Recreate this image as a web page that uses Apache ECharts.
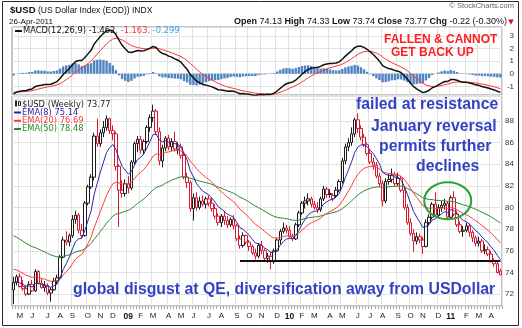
<!DOCTYPE html>
<html>
<head>
<meta charset="utf-8">
<title>$USD weekly</title>
<script src="https://cdn.jsdelivr.net/npm/echarts@6/dist/echarts.min.js"></script>
<style>
html,body{margin:0;padding:0;background:#fff;}
#chart{width:522px;height:328px;}
</style>
</head>
<body>
<div id="chart"></div>
<script>
// Weekly bars, week starting Monday
const weeks = [
'2008-04-21','2008-04-28','2008-05-05','2008-05-12','2008-05-19','2008-05-26',
'2008-06-02','2008-06-09','2008-06-16','2008-06-23','2008-06-30',
'2008-07-07','2008-07-14','2008-07-21','2008-07-28',
'2008-08-04','2008-08-11','2008-08-18','2008-08-25',
'2008-09-01','2008-09-08','2008-09-15','2008-09-22','2008-09-29',
'2008-10-06','2008-10-13','2008-10-20','2008-10-27',
'2008-11-03','2008-11-10','2008-11-17','2008-11-24',
'2008-12-01','2008-12-08','2008-12-15','2008-12-22','2008-12-29',
'2009-01-05','2009-01-12','2009-01-19','2009-01-26',
'2009-02-02','2009-02-09','2009-02-16','2009-02-23',
'2009-03-02','2009-03-09','2009-03-16','2009-03-23','2009-03-30',
'2009-04-06','2009-04-13','2009-04-20','2009-04-27',
'2009-05-04','2009-05-11','2009-05-18','2009-05-25',
'2009-06-01','2009-06-08','2009-06-15','2009-06-22','2009-06-29',
'2009-07-06','2009-07-13','2009-07-20','2009-07-27',
'2009-08-03','2009-08-10','2009-08-17','2009-08-24','2009-08-31',
'2009-09-07','2009-09-14','2009-09-21','2009-09-28',
'2009-10-05','2009-10-12','2009-10-19','2009-10-26',
'2009-11-02','2009-11-09','2009-11-16','2009-11-23','2009-11-30',
'2009-12-07','2009-12-14','2009-12-21','2009-12-28',
'2010-01-04','2010-01-11','2010-01-18','2010-01-25',
'2010-02-01','2010-02-08','2010-02-15','2010-02-22',
'2010-03-01','2010-03-08','2010-03-15','2010-03-22','2010-03-29',
'2010-04-05','2010-04-12','2010-04-19','2010-04-26',
'2010-05-03','2010-05-10','2010-05-17','2010-05-24','2010-05-31',
'2010-06-07','2010-06-14','2010-06-21','2010-06-28',
'2010-07-05','2010-07-12','2010-07-19','2010-07-26',
'2010-08-02','2010-08-09','2010-08-16','2010-08-23','2010-08-30',
'2010-09-06','2010-09-13','2010-09-20','2010-09-27',
'2010-10-04','2010-10-11','2010-10-18','2010-10-25',
'2010-11-01','2010-11-08','2010-11-15','2010-11-22','2010-11-29',
'2010-12-06','2010-12-13','2010-12-20','2010-12-27',
'2011-01-03','2011-01-10','2011-01-17','2011-01-24','2011-01-31',
'2011-02-07','2011-02-14','2011-02-21','2011-02-28',
'2011-03-07','2011-03-14','2011-03-21','2011-03-28',
'2011-04-04','2011-04-11','2011-04-18','2011-04-25'
];

const opens = [
72.4,73.1,73.6,72.7,72.5,72.0,72.9,72.3,74.1,73.0,
72.6,72.8,72.1,72.4,73.2,73.5,75.4,77.0,76.8,77.4,
78.9,79.3,77.9,77.4,80.4,81.9,82.8,86.6,85.9,86.9,
87.4,88.2,87.1,86.8,83.8,81.6,81.3,82.2,81.8,84.2,
85.9,86.3,85.3,86.1,87.4,88.3,88.9,87.0,84.3,85.5,
86.4,85.6,86.1,85.4,85.6,84.8,82.8,82.3,79.9,80.9,
80.0,80.6,80.3,80.8,80.4,79.9,79.2,78.6,79.2,78.8,
78.4,78.9,78.3,77.1,76.5,77.4,76.8,76.4,75.8,75.5,
76.5,76.0,75.3,75.5,75.0,76.0,77.0,77.8,78.1,77.9,
77.3,77.1,78.4,79.5,80.4,80.6,80.8,80.3,80.0,79.8,
80.8,81.7,81.2,80.8,81.1,81.6,82.4,84.3,85.6,86.0,
86.8,88.1,87.3,86.5,85.8,85.0,84.2,83.9,82.9,82.2,
80.6,82.4,82.6,83.0,82.2,82.7,81.6,80.0,78.6,77.6,
76.9,77.3,77.0,76.4,78.6,79.1,80.3,79.3,80.0,80.2,
80.4,79.1,80.9,79.4,78.4,77.8,77.9,78.3,77.7,77.2,
76.7,76.9,76.0,76.1,75.7,75.1,74.8,74.13
];
const highs = [
73.6,73.8,73.9,73.3,72.8,73.2,73.3,74.3,74.2,73.4,
73.2,73.0,72.6,73.5,73.8,75.6,77.3,77.8,77.6,79.3,
79.7,79.5,78.5,80.6,82.1,83.1,86.9,88.2,87.2,88.0,
88.5,88.3,87.6,87.0,84.0,82.5,82.6,82.9,84.4,86.1,
86.6,86.6,86.3,87.6,88.6,89.5,89.1,87.4,85.8,86.6,
86.7,86.4,87.0,86.0,85.9,85.0,83.2,82.5,81.3,81.4,
81.0,81.1,81.0,81.1,80.9,80.3,79.5,79.4,79.6,79.2,
79.1,79.3,78.5,77.4,77.7,77.5,77.0,76.6,76.2,76.7,
76.9,76.2,75.8,75.9,76.2,77.2,78.0,78.6,78.4,78.3,
77.6,78.6,79.7,80.6,81.0,81.3,81.0,80.6,80.5,81.0,
82.0,81.9,81.7,81.3,81.9,82.6,84.6,85.9,86.4,87.4,
88.3,88.7,87.6,86.8,86.0,85.3,84.6,84.2,83.2,82.5,
82.7,83.1,83.6,83.3,83.2,82.9,81.8,80.3,79.0,78.0,
77.7,77.6,77.3,78.9,79.4,80.5,81.4,80.3,80.6,80.8,
80.6,81.1,81.5,79.7,78.7,78.3,78.6,78.5,77.9,77.4,
77.3,77.1,76.6,76.4,76.0,75.3,75.0,74.33
];
const lows = [
71.1,72.8,72.6,72.3,71.8,71.9,72.2,72.2,72.9,72.5,
72.2,71.9,71.3,72.3,72.9,73.4,75.3,76.5,76.4,77.2,
78.5,77.6,77.1,77.3,80.2,81.7,82.5,85.6,85.6,86.5,
87.1,86.8,86.2,83.4,78.2,80.9,81.0,81.3,81.6,84.0,
85.1,85.0,84.9,85.9,87.0,87.9,86.7,83.9,83.7,85.2,
85.3,85.2,85.2,84.9,84.5,82.6,81.8,79.6,78.8,79.7,
79.8,80.1,79.9,80.1,79.6,78.9,78.3,78.2,78.4,78.1,
78.2,78.0,76.9,76.2,76.3,76.6,76.0,75.6,75.2,75.3,
75.7,75.0,74.9,74.3,74.8,75.9,76.6,77.6,77.6,77.2,
76.9,77.0,78.2,79.3,79.9,80.2,80.0,79.8,79.5,79.6,
80.6,80.9,80.9,80.6,80.9,81.4,82.2,84.0,85.2,85.7,
86.5,86.9,86.2,85.6,84.8,84.0,83.5,82.7,81.9,80.1,
80.4,82.1,82.3,82.0,82.0,81.4,79.8,78.4,77.4,75.9,
76.6,76.7,75.7,76.3,78.3,78.9,79.1,79.1,79.6,79.8,
78.9,78.9,79.2,78.2,77.6,77.3,77.7,77.3,76.8,76.4,
76.4,75.8,75.7,75.5,74.9,74.5,73.9,73.74
];
const closes = [
73.1,73.6,72.7,72.5,72.0,72.9,72.3,74.1,73.0,72.6,
72.8,72.1,72.4,73.2,73.5,75.4,77.0,76.8,77.4,78.9,
79.3,77.9,77.4,80.4,81.9,82.8,86.6,85.9,86.9,87.4,
88.2,87.1,86.8,83.8,81.6,81.3,82.2,81.8,84.2,85.9,
86.3,85.3,86.1,87.4,88.3,88.9,87.0,84.3,85.5,86.4,
85.6,86.1,85.4,85.6,84.8,82.8,82.3,79.9,80.9,80.0,
80.6,80.3,80.8,80.4,79.9,79.2,78.6,79.2,78.8,78.4,
78.9,78.3,77.1,76.5,77.4,76.8,76.4,75.8,75.5,76.5,
76.0,75.3,75.5,75.0,76.0,77.0,77.8,78.1,77.9,77.3,
77.1,78.4,79.5,80.4,80.6,80.8,80.3,80.0,79.8,80.8,
81.7,81.2,81.3,81.1,81.6,82.4,84.3,85.6,86.0,86.8,
88.1,87.3,86.5,85.8,85.0,84.2,83.9,82.9,82.2,80.6,
82.4,82.6,83.0,82.2,82.7,81.6,80.0,78.6,77.6,76.9,
77.3,77.0,76.4,78.6,79.1,80.3,79.3,80.0,80.2,80.4,
79.1,80.9,79.4,78.4,77.8,77.9,78.3,77.7,77.2,76.7,
76.9,76.0,76.1,75.7,75.1,74.8,73.99,73.77
];

// Indicator levels carried in from the weeks before the first bar
const emaStart = { e8: 73.0, e20: 74.3, e50: 77.4 };
const macdStart = { fast: 73.3, slow: 74.9, signal: -1.46 };

// Latest readings printed in the panel legends
const legendValues = {
  close: '73.77', ema8: '75.14', ema20: '76.69', ema50: '78.48',
  macd: '-1.462', signal: '-1.163', hist: '-0.299'
};

const supportLevel = 75.05;
const supportFrom = 73;

// Exponential moving average of a weekly series
function ema(src, period, start) {
  const k = 2 / (period + 1);
  const out = [start];
  for (let i = 1; i < src.length; i++) out.push(out[i - 1] + k * (src[i] - out[i - 1]));
  return out;
}
const r3 = v => Math.round(v * 1000) / 1000;

const ema8 = ema(closes, 8, emaStart.e8);
const ema20 = ema(closes, 20, emaStart.e20);
const ema50 = ema(closes, 50, emaStart.e50);
const fast = ema(closes, 12, macdStart.fast);
const slow = ema(closes, 26, macdStart.slow);
const macd = fast.map((v, i) => v - slow[i]);
const signal = ema(macd, 9, macdStart.signal);
const hist = macd.map((v, i) => v - signal[i]);

const RED = '#d81830';
const INK = '#1c1c1c';

// Hollow when the week closes above its open; red when it closes below the prior week
const candles = closes.map((c, i) => {
  const prev = i ? closes[i - 1] : opens[i];
  const ink = c < prev ? RED : INK;
  return {
    value: [opens[i], c, lows[i], highs[i]],
    itemStyle: { color: '#ffffff', color0: ink, borderColor: ink, borderColor0: ink }
  };
});

const monthStart = weeks.map((d, i) => i > 0 && d.slice(5, 7) !== weeks[i - 1].slice(5, 7));
const MONTHS = 'JFMAMJJASOND';
function monthLabel(d) {
  const m = +d.slice(5, 7);
  return m === 1 ? '{y|' + d.slice(2, 4) + '}' : MONTHS[m - 1];
}

const gridLine = { color: '#e2e2e2', width: 1 };
const AX_FONT = 'Liberation Sans';
const LEG_FONT = 'DejaVu Sans';

const intLabel = v => {
  const n = Math.round(v);
  return Math.abs(v - n) < 1e-6 ? String(n) : '';
};

const chart = echarts.init(document.getElementById('chart'), null, { width: 522, height: 328 });

chart.setOption({
  animation: false,
  backgroundColor: '#ffffff',
  grid: [
    { left: 12, right: 20, top: 27, height: 68, show: true, borderColor: '#8c8c8c', borderWidth: 1, outerBoundsMode: 'none' },
    { left: 12, right: 20, top: 96, height: 210, show: true, borderColor: '#8c8c8c', borderWidth: 1, outerBoundsMode: 'none' }
  ],
  xAxis: [
    {
      type: 'category', gridIndex: 0, data: weeks, boundaryGap: true,
      axisLine: { show: false }, axisTick: { show: false }, axisLabel: { show: false },
      splitLine: { show: true, interval: i => monthStart[i], lineStyle: gridLine }
    },
    {
      type: 'category', gridIndex: 1, data: weeks, boundaryGap: true,
      axisLine: { show: false },
      axisTick: { show: true, interval: 0, length: 3, lineStyle: { color: '#a8a8a8' } },
      axisLabel: {
        interval: i => monthStart[i],
        formatter: v => monthLabel(v),
        fontFamily: AX_FONT, fontSize: 8, color: '#1a1a1a', margin: 6, hideOverlap: false,
        rich: { y: { fontFamily: AX_FONT, fontSize: 8.5, fontWeight: 'bold', color: '#111' } }
      },
      splitLine: { show: true, interval: i => monthStart[i], lineStyle: gridLine }
    }
  ],
  yAxis: [
    {
      type: 'value', gridIndex: 0, position: 'right', min: -1.69, max: 3.71, splitNumber: 5,
      axisLine: { show: false }, axisTick: { show: false },
      axisLabel: { fontFamily: AX_FONT, fontSize: 8, color: '#333', margin: 12, align: 'right', formatter: intLabel, showMinLabel: false, showMaxLabel: false },
      splitLine: { show: true, lineStyle: gridLine }
    },
    {
      type: 'value', gridIndex: 1, position: 'right', min: 70.9, max: 90.3, splitNumber: 10,
      axisLine: { show: false }, axisTick: { show: false },
      axisLabel: { fontFamily: AX_FONT, fontSize: 8, color: '#333', margin: 12, align: 'right',
        formatter: v => (v >= 72 && v <= 88 ? intLabel(v) : ''), showMinLabel: false, showMaxLabel: false },
      splitLine: { show: true, lineStyle: gridLine }
    }
  ],
  series: [
    {
      name: 'MACD histogram', type: 'bar', xAxisIndex: 0, yAxisIndex: 0,
      data: hist.map(r3), barWidth: 2.4, z: 1,
      itemStyle: { color: '#4f83c3' }
    },
    {
      name: 'MACD', type: 'line', xAxisIndex: 0, yAxisIndex: 0, data: macd.map(r3),
      symbol: 'none', z: 3, lineStyle: { color: '#111', width: 1.5 }
    },
    {
      name: 'Signal', type: 'line', xAxisIndex: 0, yAxisIndex: 0, data: signal.map(r3),
      symbol: 'none', z: 2, lineStyle: { color: '#ff3333', width: 1 }
    },
    {
      name: '$USD', type: 'candlestick', xAxisIndex: 1, yAxisIndex: 1,
      data: candles, barWidth: 3, z: 2
    },
    {
      name: 'EMA(50)', type: 'line', xAxisIndex: 1, yAxisIndex: 1, data: ema50.map(r3),
      symbol: 'none', z: 3, lineStyle: { color: '#2a8a2a', width: 1 }
    },
    {
      name: 'EMA(20)', type: 'line', xAxisIndex: 1, yAxisIndex: 1, data: ema20.map(r3),
      symbol: 'none', z: 3, lineStyle: { color: '#ff3b3b', width: 1 }
    },
    {
      name: 'EMA(8)', type: 'line', xAxisIndex: 1, yAxisIndex: 1, data: ema8.map(r3),
      symbol: 'none', z: 4, lineStyle: { color: '#2828a8', width: 1 }
    },
    {
      name: 'Support', type: 'line', xAxisIndex: 1, yAxisIndex: 1,
      data: [[weeks[supportFrom], supportLevel], [weeks[weeks.length - 1], supportLevel]],
      symbol: 'none', z: 5, lineStyle: { color: '#111', width: 2 }
    }
  ]
});

// Annotation ring around the Dec 2010 - Jan 2011 stall
const ringCenter = chart.convertToPixel({ xAxisIndex: 1, yAxisIndex: 1 }, [weeks[140], 80.63]);

const txt = (text, x, y, font, fill, extra) => ({
  type: 'text', z: 100,
  style: Object.assign({ text, x, y, font, fill, textVerticalAlign: 'middle' }, extra || {})
});
const seg = (x1, x2, y, stroke) => ({
  type: 'line', z: 100, shape: { x1, y1: y, x2, y2: y }, style: { stroke, lineWidth: 2 }
});

const BLUE_NOTE = '#3342c4';
const noteFont = 'bold 15.8px "Liberation Sans"';
const redFont = 'bold 12px "Liberation Sans"';
const legFont = '8.3px "DejaVu Sans"';
const L = legendValues;

chart.setOption({
  graphic: [
    { type: 'rect', z: 100, shape: { x: 2.5, y: 1.5, width: 516, height: 324 }, style: { fill: 'none', stroke: '#2a2a2a', lineWidth: 1 } },
    txt('$USD', 10, 10.5, 'bold 9.6px "Liberation Sans"', '#111'),
    txt('(US Dollar Index (EOD)) INDX', 38, 11, '8.5px "Liberation Sans"', '#111'),
    txt('26-Apr-2011', 9, 21.5, '8px "Liberation Sans"', '#111'),
    txt('\u00A9 StockCharts.com', 514, 6, '7.5px "Liberation Sans"', '#666', { textAlign: 'right' }),
    {
      type: 'text', z: 100,
      style: {
        text: '{b|Open} 74.13 {b|High} 74.33 {b|Low} 73.74 {b|Close} 73.77 {b|Chg} -0.22 (-0.30%)',
        x: 507, y: 21.5, textAlign: 'right', textVerticalAlign: 'middle',
        font: '9px "Liberation Sans"', fill: '#111',
        rich: { b: { fontFamily: 'Liberation Sans', fontSize: 9, fontWeight: 'bold', fill: '#111' } }
      }
    },
    txt('\u25BC', 511, 22, '7px "DejaVu Sans"', '#cc1122', { textAlign: 'center' }),

    // MACD legend
    seg(15, 22, 31, '#111'),
    {
      type: 'text', z: 100,
      style: {
        text: '{k|MACD(12,26,9) ' + L.macd + '}{r|, ' + L.signal + '}{c|, ' + L.hist + '}',
        x: 23, y: 31, textVerticalAlign: 'middle', font: legFont,
        rich: {
          k: { fontFamily: LEG_FONT, fontSize: 8.3, fill: '#111' },
          r: { fontFamily: LEG_FONT, fontSize: 8.3, fill: '#ff3333' },
          c: { fontFamily: LEG_FONT, fontSize: 8.3, fill: '#3fa0e0' }
        }
      }
    },
    txt('FALLEN & CANNOT', 384, 39.5, redFont, '#ff1f1f'),
    txt('GET BACK UP', 391, 53, redFont, '#ff1f1f'),

    // price legend
    { type: 'rect', z: 100, shape: { x: 15, y: 100.5, width: 2, height: 6 }, style: { fill: '#222' } },
    { type: 'rect', z: 100, shape: { x: 18.5, y: 101.5, width: 2, height: 4 }, style: { fill: '#fff', stroke: '#222', lineWidth: 1 } },
    txt('$USD (Weekly) ' + L.close, 22, 104.5, legFont, '#222'),
    seg(14, 21, 112.5, '#2828a8'),
    txt('EMA(8) ' + L.ema8, 22, 112.5, legFont, '#2828a8'),
    seg(14, 21, 120.8, '#ff3b3b'),
    txt('EMA(20) ' + L.ema20, 22, 120.8, legFont, '#ff3b3b'),
    seg(14, 21, 129, '#2a8a2a'),
    txt('EMA(50) ' + L.ema50, 22, 129, legFont, '#2a8a2a'),

    // commentary
    txt('failed at resistance', 356, 105, noteFont, BLUE_NOTE),
    txt('January reversal', 371, 126.5, noteFont, BLUE_NOTE),
    txt('permits further', 379, 146.5, noteFont, BLUE_NOTE),
    txt('declines', 416, 166.5, noteFont, BLUE_NOTE),
    txt('global disgust at QE, diversification away from USDollar', 73, 290, noteFont, BLUE_NOTE),

    {
      type: 'ellipse', z: 100,
      shape: { cx: ringCenter[0], cy: ringCenter[1], rx: 23.5, ry: 18.5 },
      style: { fill: 'none', stroke: '#22a532', lineWidth: 2 }
    }
  ]
});
</script>
</body>
</html>
